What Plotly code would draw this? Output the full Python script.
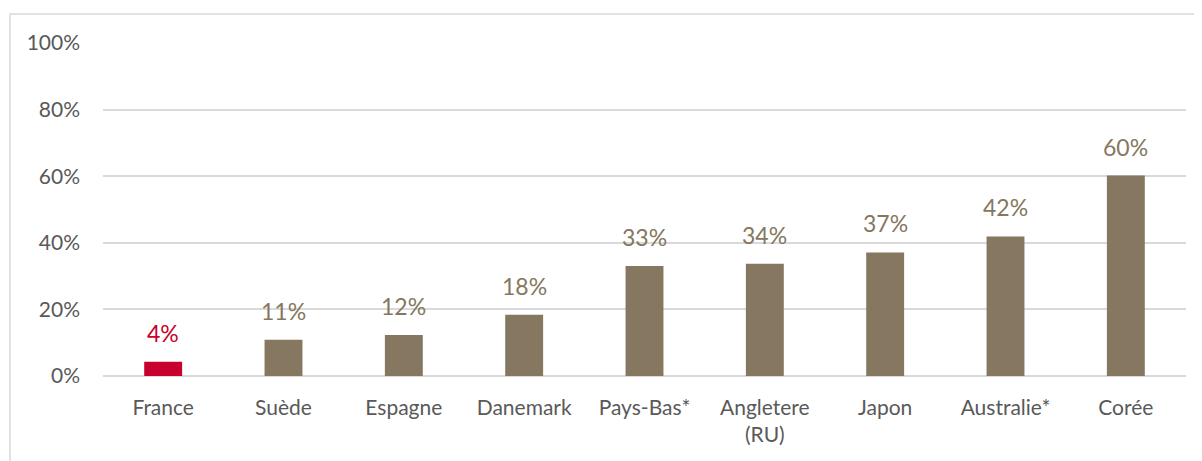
import plotly.graph_objects as go

categories = ["France", "Suède", "Espagne", "Danemark", "Pays-Bas*", "Angletere<br>(RU)", "Japon", "Australie*", "Corée"]
values = [4.3, 10.9, 12.3, 18.4, 33.0, 33.7, 37.1, 41.9, 60.2]
labels = ["4%", "11%", "12%", "18%", "33%", "34%", "37%", "42%", "60%"]
highlight = "France"

BROWN = "#857760"
RED = "#C8002D"
colors = [RED if c == highlight else BROWN for c in categories]

fig = go.Figure(go.Bar(
    x=categories, y=values,
    marker=dict(color=colors, line=dict(width=0)),
    width=0.315, hoverinfo="x+y",
))

for c, v, t, col in zip(categories, values, labels, colors):
    fig.add_annotation(x=c, y=v, text=t, showarrow=False, yanchor="bottom",
                       yshift=13, font=dict(family="Lato", size=23, color=col))

# page body has an 8px default margin; margins compensate so the plot sits where the reference has it
fig.update_layout(
    width=1202, height=461,
    margin=dict(l=95, r=24, t=35, b=93),
    paper_bgcolor="white", plot_bgcolor="white",
    font=dict(family="Lato", color="#595959", size=21),
    showlegend=False,
)
fig.update_yaxes(range=[0, 100], dtick=20, ticksuffix="%", showgrid=True,
                 gridcolor="#D9D9D9", gridwidth=1.5, zeroline=True, zerolinecolor="#D9D9D9",
                 zerolinewidth=1.5, showline=False, ticks="", ticklabelstandoff=22,
                 tickfont=dict(size=21, color="#595959"))
fig.update_xaxes(showgrid=False, showline=False, ticks="", ticklabelstandoff=17,
                 tickfont=dict(size=21, color="#595959"))

fig.add_shape(type="rect", xref="paper", yref="paper",
              x0=(10 - 103) / 1083, x1=1.05, y0=-0.4, y1=(376 - 14) / 333,
              line=dict(color="#D9D9D9", width=1.5), fillcolor="rgba(0,0,0,0)", layer="below")

fig.write_html("out.html")
